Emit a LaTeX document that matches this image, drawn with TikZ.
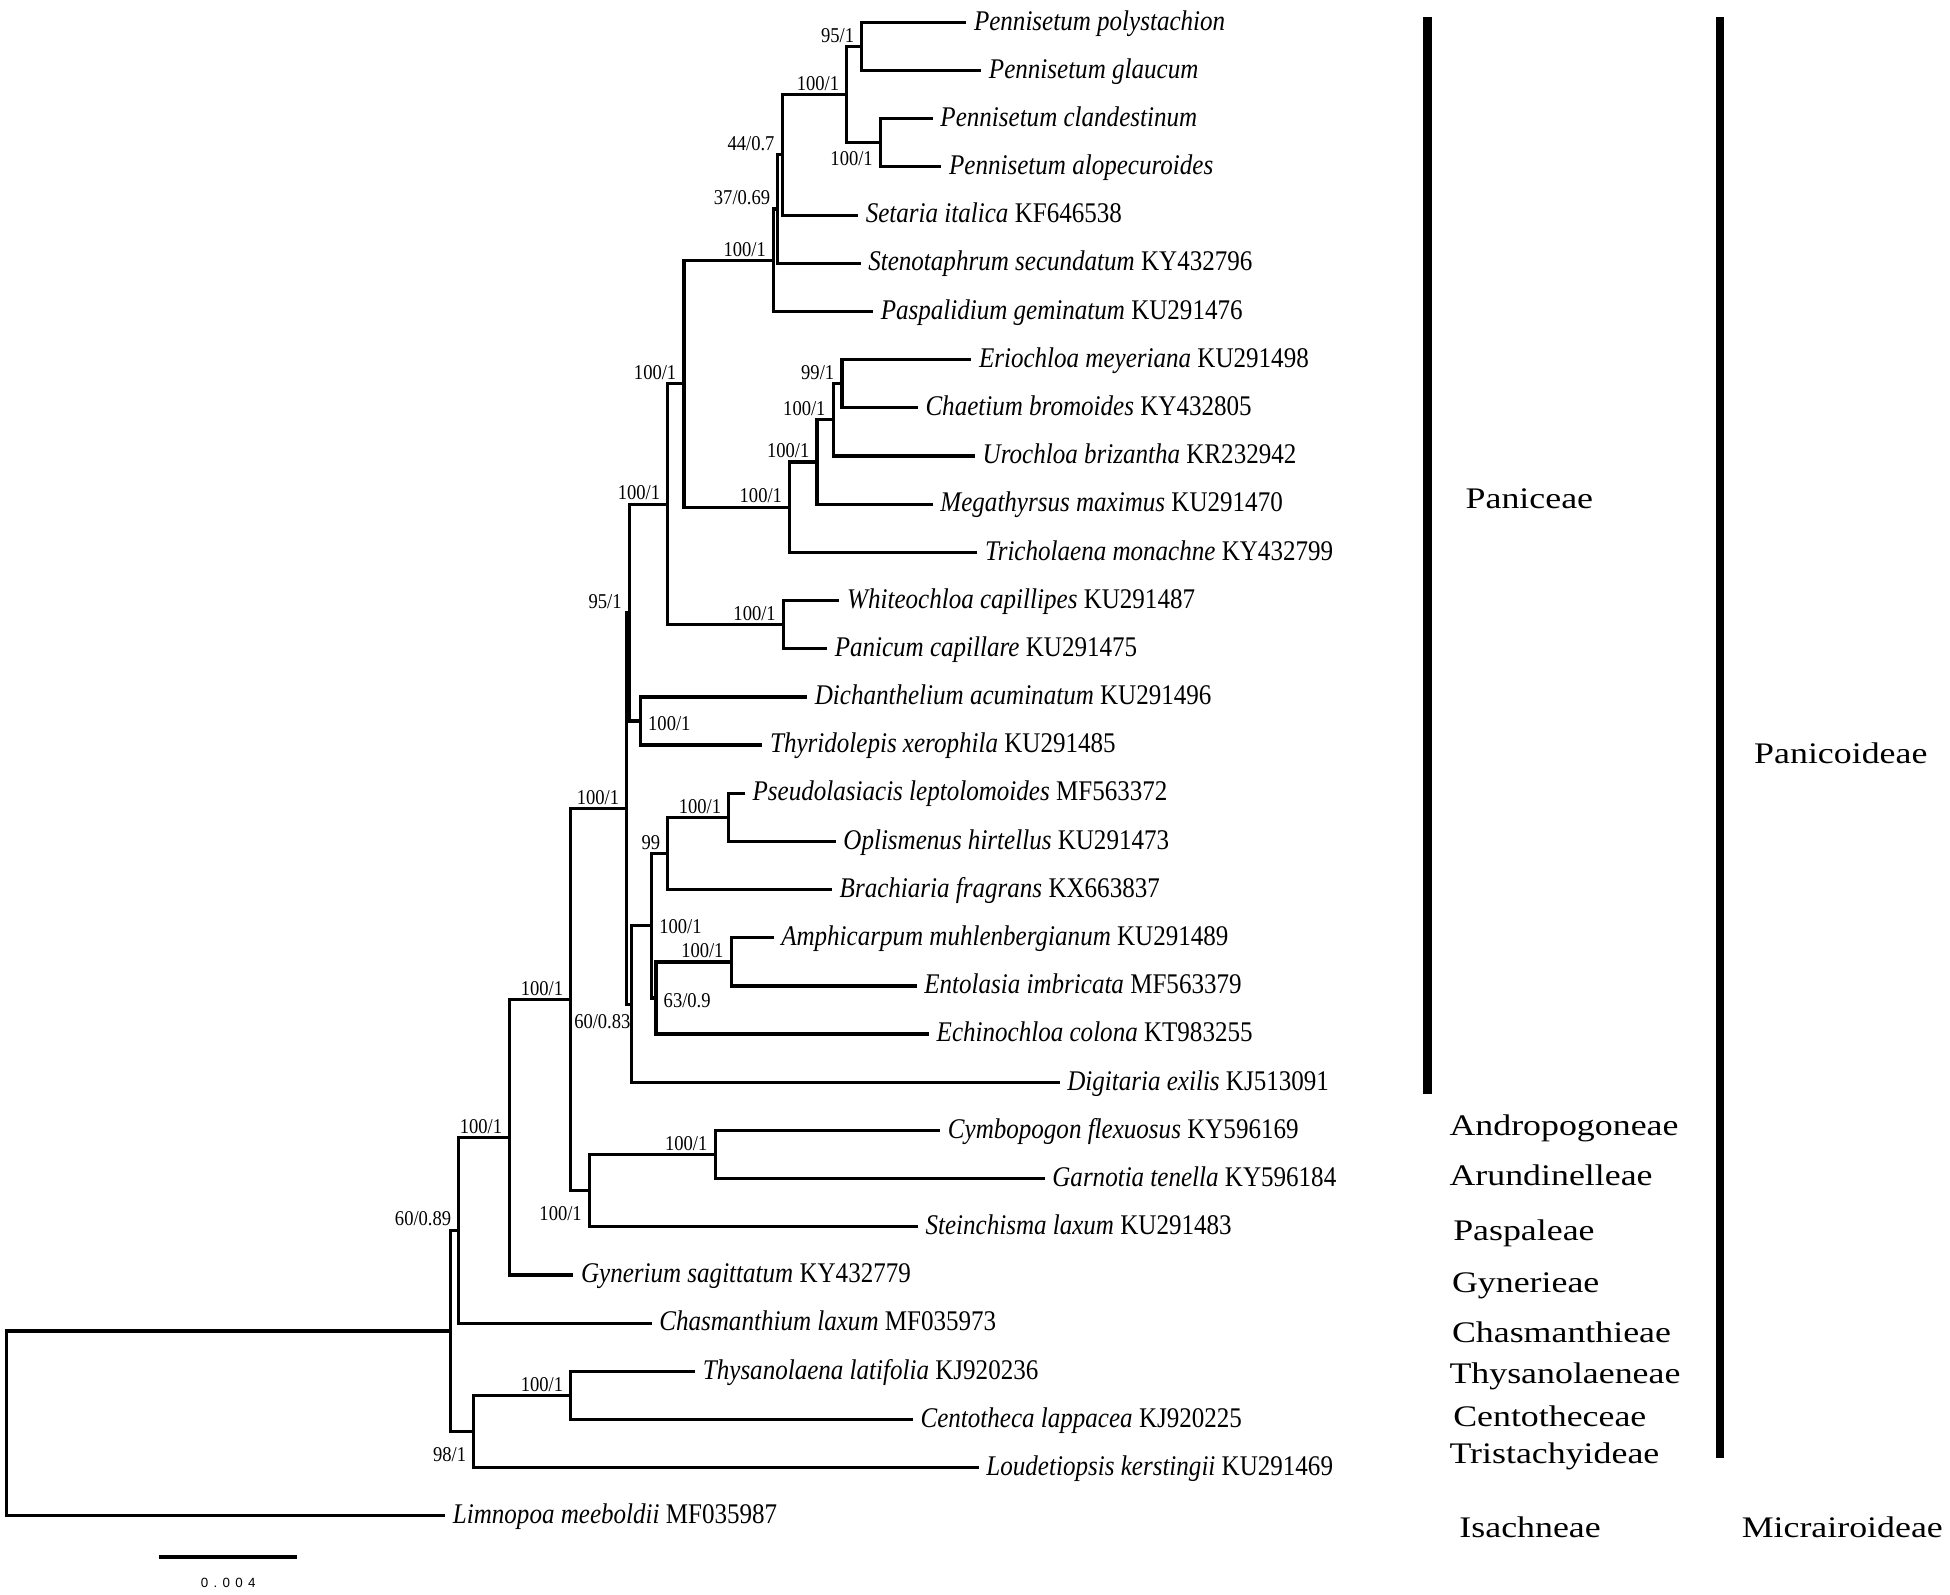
\documentclass[tikz,border=0pt]{standalone}
\usepackage{fontspec}
\setmainfont{Liberation Serif}
\newfontfamily\leaffont[FakeStretch=0.88]{Liberation Serif}
\newfontfamily\tribefont[FakeStretch=1.2]{Liberation Serif}
\newfontfamily\sbfont[LetterSpace=40]{Liberation Sans}

\begin{document}
\begin{tikzpicture}[x=0.0124362cm,y=-0.0124362cm]
    \useasboundingbox (0,0) rectangle (1568,1282);
    \tikzstyle{leaf}=[anchor=west,inner sep=2pt,text height=6pt,text depth=1.6pt,font=\leaffont\fontsize{8.1}{9}\selectfont]  % 叶节点文字
    \tikzstyle{bs}=[inner xsep=2pt,inner ysep=1pt,text height=4.2pt,text depth=0pt,font=\leaffont\fontsize{6}{7}\selectfont]  % 支持率
    \tikzstyle{tribe}=[anchor=west,inner sep=0pt,font=\tribefont\fontsize{8.5}{10}\selectfont]  % 族名
    \tikzstyle{branch}=[line width=0.9pt]
    \tikzstyle{bar}=[line width=2.4pt]

    % 叶节点
    \node[leaf](l1) at (777,18) {\textit{Pennisetum polystachion}};
    \node[leaf](l2) at (789,56.7) {\textit{Pennisetum glaucum}};
    \node[leaf](l3) at (750,95.5) {\textit{Pennisetum clandestinum}};
    \node[leaf](l4) at (757,134.2) {\textit{Pennisetum alopecuroides}};
    \node[leaf](l5) at (690,173) {\textit{Setaria italica} KF646538};
    \node[leaf](l6) at (692,211.7) {\textit{Stenotaphrum secundatum} KY432796};
    \node[leaf](l7) at (702,250.4) {\textit{Paspalidium geminatum} KU291476};
    \node[leaf](l8) at (781,289.2) {\textit{Eriochloa meyeriana} KU291498};
    \node[leaf](l9) at (738,327.9) {\textit{Chaetium bromoides} KY432805};
    \node[leaf](l10) at (784,366.7) {\textit{Urochloa brizantha} KR232942};
    \node[leaf](l11) at (750,405.4) {\textit{Megathyrsus maximus} KU291470};
    \node[leaf](l12) at (786,444.1) {\textit{Tricholaena monachne} KY432799};
    \node[leaf](l13) at (675,482.9) {\textit{Whiteochloa capillipes} KU291487};
    \node[leaf](l14) at (665,521.6) {\textit{Panicum capillare} KU291475};
    \node[leaf](l15) at (649,560.4) {\textit{Dichanthelium acuminatum} KU291496};
    \node[leaf](l16) at (613,599.1) {\textit{Thyridolepis xerophila} KU291485};
    \node[leaf](l17) at (599,637.8) {\textit{Pseudolasiacis leptolomoides} MF563372};
    \node[leaf](l18) at (672,676.6) {\textit{Oplismenus hirtellus} KU291473};
    \node[leaf](l19) at (669,715.3) {\textit{Brachiaria fragrans} KX663837};
    \node[leaf](l20) at (622,754.1) {\textit{Amphicarpum muhlenbergianum} KU291489};
    \node[leaf](l21) at (737,792.8) {\textit{Entolasia imbricata} MF563379};
    \node[leaf](l22) at (747,831.5) {\textit{Echinochloa colona} KT983255};
    \node[leaf](l23) at (852,870.3) {\textit{Digitaria exilis} KJ513091};
    \node[leaf](l24) at (756,909) {\textit{Cymbopogon flexuosus} KY596169};
    \node[leaf](l25) at (840,947.8) {\textit{Garnotia tenella} KY596184};
    \node[leaf](l26) at (738,986.5) {\textit{Steinchisma laxum} KU291483};
    \node[leaf](l27) at (461,1025.2) {\textit{Gynerium sagittatum} KY432779};
    \node[leaf](l28) at (524,1064) {\textit{Chasmanthium laxum} MF035973};
    \node[leaf](l29) at (559,1102.7) {\textit{Thysanolaena latifolia} KJ920236};
    \node[leaf](l30) at (734,1141.4) {\textit{Centotheca lappacea} KJ920225};
    \node[leaf](l31) at (787,1180.2) {\textit{Loudetiopsis kerstingii} KU291469};
    \node[leaf](l32) at (358,1218.9) {\textit{Limnopoa meeboldii} MF035987};

    % 内部节点
    \coordinate (pa) at (693,37.4);
    \coordinate (pb) at (708,114.8);
    \coordinate (pc) at (681,76.1);
    \coordinate (s3) at (629,124.5);
    \coordinate (s2) at (625.5,168.1);
    \coordinate (s1) at (622,209.3);
    \coordinate (e1) at (677,308.6);
    \coordinate (e2) at (670,337.6);
    \coordinate (e3) at (657,371.5);
    \coordinate (e4) at (635,407.8);
    \coordinate (g1) at (550,308.5);
    \coordinate (w1) at (630,502.3);
    \coordinate (g2) at (537,405.4);
    \coordinate (d1) at (515,579.8);
    \coordinate (u) at (506,492.6);
    \coordinate (o1) at (586,657.2);
    \coordinate (o2) at (537,686.3);
    \coordinate (a1) at (588,773.5);
    \coordinate (a2) at (527.5,802.5);
    \coordinate (n1) at (524,744.4);
    \coordinate (w) at (507.5,807.4);
    \coordinate (e) at (504,650);
    \coordinate (g) at (575,928.4);
    \coordinate (f) at (474,957.5);
    \coordinate (d) at (459,803.7);
    \coordinate (c) at (410,914.5);
    \coordinate (b) at (369,989.2);
    \coordinate (th) at (459,1122.1);
    \coordinate (t) at (381,1151.1);
    \coordinate (a) at (362,1070.2);
    \coordinate (root) at (5,1144.5);

    % 画枝
    \draw[branch](pa) |- (l1.west) (pa) |- (l2.west);
    \draw[branch](pb) |- (l3.west) (pb) |- (l4.west);
    \draw[branch](pc) |- (pa) (pc) |- (pb);
    \draw[branch](s3) |- (pc) (s3) |- (l5.west);
    \draw[branch](s2) |- (s3) (s2) |- (l6.west);
    \draw[branch](s1) |- (s2) (s1) |- (l7.west);
    \draw[branch](e1) |- (l8.west) (e1) |- (l9.west);
    \draw[branch](e2) |- (e1) (e2) |- (l10.west);
    \draw[branch](e3) |- (e2) (e3) |- (l11.west);
    \draw[branch](e4) |- (e3) (e4) |- (l12.west);
    \draw[branch](g1) |- (s1) (g1) |- (e4);
    \draw[branch](w1) |- (l13.west) (w1) |- (l14.west);
    \draw[branch](g2) |- (g1) (g2) |- (w1);
    \draw[branch](d1) |- (l15.west) (d1) |- (l16.west);
    \draw[branch](u) |- (g2) (u) |- (d1);
    \draw[branch](o1) |- (l17.west) (o1) |- (l18.west);
    \draw[branch](o2) |- (o1) (o2) |- (l19.west);
    \draw[branch](a1) |- (l20.west) (a1) |- (l21.west);
    \draw[branch](a2) |- (a1) (a2) |- (l22.west);
    \draw[branch](n1) |- (o2) (n1) |- (a2);
    \draw[branch](w) |- (n1) (w) |- (l23.west);
    \draw[branch](e) |- (u) (e) |- (w);
    \draw[branch](g) |- (l24.west) (g) |- (l25.west);
    \draw[branch](f) |- (g) (f) |- (l26.west);
    \draw[branch](d) |- (e) (d) |- (f);
    \draw[branch](c) |- (d) (c) |- (l27.west);
    \draw[branch](b) |- (c) (b) |- (l28.west);
    \draw[branch](th) |- (l29.west) (th) |- (l30.west);
    \draw[branch](t) |- (th) (t) |- (l31.west);
    \draw[branch](a) |- (b) (a) |- (t);
    \draw[branch](root) |- (a) (root) |- (l32.west);

    % 支持率
    \node[bs,above left](bpa) at (pa) {95/1};
    \node[bs,below left,yshift=-1pt](bpb) at (pb) {100/1};
    \node[bs,above left](bpc) at (pc) {100/1};
    \node[bs,above left](bs3) at (s3) {44/0.7};
    \node[bs,above left](bs2) at (s2) {37/0.69};
    \node[bs,above left](bs1) at (s1) {100/1};
    \node[bs,above left](be1) at (e1) {99/1};
    \node[bs,above left](be2) at (e2) {100/1};
    \node[bs,above left](be3) at (e3) {100/1};
    \node[bs,above left](be4) at (e4) {100/1};
    \node[bs,above left](bg1) at (g1) {100/1};
    \node[bs,above left](bw1) at (w1) {100/1};
    \node[bs,above left](bg2) at (g2) {100/1};
    \node[bs,right,yshift=-0.7pt](bd1) at (d1) {100/1};
    \node[bs,above left](bu) at (u) {95/1};
    \node[bs,above left](bo1) at (o1) {100/1};
    \node[bs,above left](bo2) at (o2) {99};
    \node[bs,above left](ba1) at (a1) {100/1};
    \node[bs,right,yshift=-0.7pt](ba2) at (a2) {63/0.9};
    \node[bs,right](bn1) at (n1) {100/1};
    \node[bs,below left,inner xsep=0pt,yshift=-1.5pt](bw) at (w) {60/0.83};
    \node[bs,above left](be) at (e) {100/1};
    \node[bs,above left](bg) at (g) {100/1};
    \node[bs,below left,yshift=-3pt](bf) at (f) {100/1};
    \node[bs,above left](bd) at (d) {100/1};
    \node[bs,above left](bc) at (c) {100/1};
    \node[bs,above left](bb) at (b) {60/0.89};
    \node[bs,above left](bth) at (th) {100/1};
    \node[bs,below left,yshift=-3pt](bt) at (t) {98/1};

    % 标尺
    \coordinate (sb1) at (128,1252);
    \coordinate (sb2) at (239,1252);
    \draw[branch](sb1) -- (sb2);
    \node[font=\sbfont\fontsize{3.8}{4.5}\selectfont](sblab) at (183.5,1273) {0.004};

    % 分类竖条
    \coordinate (pn1) at (1148,14);
    \coordinate (pn2) at (1148,880);
    \coordinate (pd1) at (1383,14);
    \coordinate (pd2) at (1383,1172);
    \draw[bar](pn1) -- (pn2);
    \draw[bar](pd1) -- (pd2);

    \node[tribe](paniceae) at (1178,401) {Paniceae};
    \node[tribe](panicoideae) at (1410,606) {Panicoideae};
    \node[tribe](andro) at (1165,907) {Andropogoneae};
    \node[tribe](arund) at (1165,945) {Arundinelleae};
    \node[tribe](paspal) at (1168,992) {Paspaleae};
    \node[tribe](gyner) at (1167,1034) {Gynerieae};
    \node[tribe](chasm) at (1167,1071) {Chasmanthieae};
    \node[tribe](thysan) at (1165,1107) {Thysanolaeneae};
    \node[tribe](cento) at (1168,1139) {Centotheceae};
    \node[tribe](trista) at (1165,1171) {Tristachyideae};
    \node[tribe](isach) at (1173,1228) {Isachneae};
    \node[tribe](micra) at (1400,1228) {Micrairoideae};
\end{tikzpicture}
\end{document}
